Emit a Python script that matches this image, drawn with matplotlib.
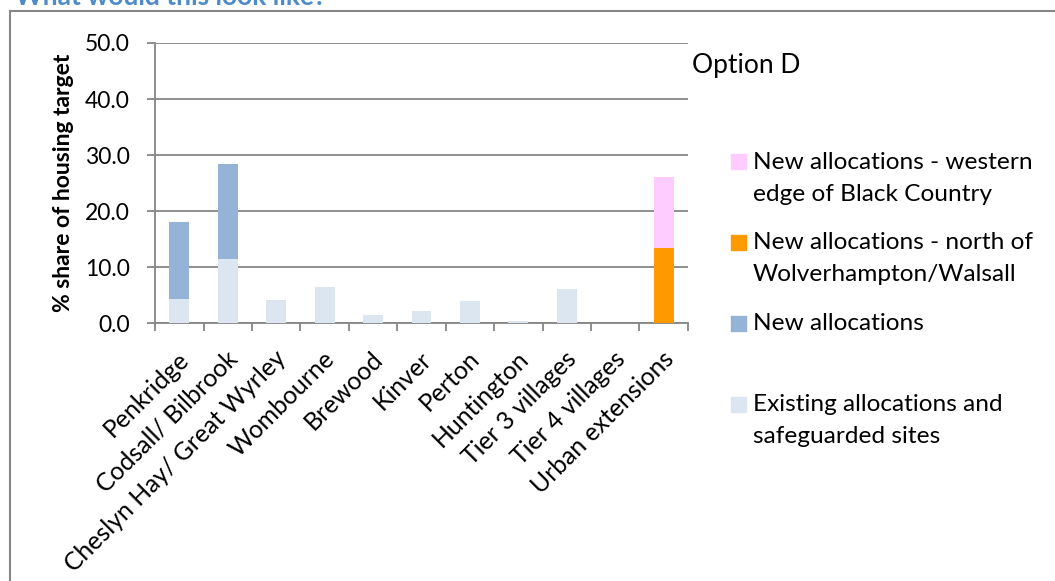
import matplotlib.pyplot as plt
from matplotlib.lines import Line2D
from matplotlib.patches import Rectangle
from matplotlib.transforms import ScaledTranslation
import numpy as np

plt.rcParams['font.family'] = ['Lato', 'DejaVu Sans']

# settlements along the x axis
categories = ["Penkridge", "Codsall/ Bilbrook", "Cheslyn Hay/ Great Wyrley",
              "Wombourne", "Brewood", "Kinver", "Perton", "Huntington",
              "Tier 3 villages", "Tier 4 villages", "Urban extensions"]

# % share of housing target, one list per stacked series (bottom to top)
existing = [4.3, 11.4, 4.2, 6.4, 1.4, 2.1, 4.0, 0.4, 6.1, 0.0, 0.0]
new_alloc = [13.7, 17.0, 0, 0, 0, 0, 0, 0, 0, 0, 0]
north_wolv = [0, 0, 0, 0, 0, 0, 0, 0, 0, 0, 13.4]
west_bc = [0, 0, 0, 0, 0, 0, 0, 0, 0, 0, 12.7]

series_labels = ["Existing allocations and\nsafeguarded sites",
                 "New allocations",
                 "New allocations - north of\nWolverhampton/Walsall",
                 "New allocations - western\nedge of Black Country"]
colors = ["#DCE6F1", "#95B3D7", "#FF9900", "#FFCCFF"]

grey = "#868686"

fig = plt.figure(figsize=(10.55, 5.81), dpi=100)
ax = fig.add_axes([0.147, 0.444, 0.505, 0.482])

x = np.arange(len(categories))
bottom = np.zeros(len(categories))
for vals, col in zip([existing, new_alloc, north_wolv, west_bc], colors):
    ax.bar(x, vals, width=0.41, bottom=bottom, color=col, zorder=3)
    bottom += np.array(vals)

ax.set_xlim(-0.5, len(categories) - 0.5)
ax.set_ylim(0, 50)
ax.set_yticks(np.arange(0, 51, 10))
ax.set_yticklabels([f"{v:.1f}" for v in np.arange(0, 51, 10)], fontsize=16.5)
ax.yaxis.grid(True, color=grey, linewidth=1.3, zorder=0)

# ticks sit between categories, labels at the centres
ax.set_xticks(np.arange(-0.5, len(categories), 1))
ax.set_xticklabels([])
ax.set_xticks(x, minor=True)
ax.set_xticklabels(categories, minor=True, rotation=45, ha='right', va='center',
                   rotation_mode='anchor', fontsize=17.8)
ax.tick_params(axis='x', which='minor', length=0, pad=23)
ax.tick_params(axis='x', which='major', length=6, width=1.3, color=grey)
ax.tick_params(axis='y', length=6, width=1.3, color=grey, pad=12)
shift = ScaledTranslation(6 / 100, 0, fig.dpi_scale_trans)
for lab in ax.get_xticklabels(minor=True):
    lab.set_transform(lab.get_transform() + shift)

for side in ['top', 'right']:
    ax.spines[side].set_visible(False)
for side in ['left', 'bottom']:
    ax.spines[side].set_color(grey)
    ax.spines[side].set_linewidth(1.3)

ax.set_ylabel("% share of housing target", fontsize=16.5, fontweight='bold',
              labelpad=8)

fig.text(692 / 1055, 1 - 65 / 581, "Option D", fontsize=19, va='center')

# legend keys, top entry first
key_y = [162, 242, 323, 404]
for yy, lab, col in zip(key_y, series_labels[::-1], colors[::-1]):
    fig.patches.append(Rectangle((731 / 1055, 1 - (yy + 7.5) / 581),
                                 15 / 1055, 15 / 581, color=col,
                                 transform=fig.transFigure, figure=fig))
    fig.text(753 / 1055, 1 - (yy - 10) / 581, lab, fontsize=17.6, va='top',
             linespacing=1.62)

# title cut off at the top edge, and the frame around the chart
fig.text(15 / 1055, 1 - 5 / 581, "What would this look like?", fontsize=19,
         fontweight='bold', color="#4F8BC9", va='baseline')
fig.lines.append(Line2D([10 / 1055, 10 / 1055], [0, 1 - 11 / 581],
                        color=grey, linewidth=1.5, transform=fig.transFigure))
fig.lines.append(Line2D([10 / 1055, 1], [1 - 11 / 581, 1 - 11 / 581],
                        color=grey, linewidth=1.5, transform=fig.transFigure))

fig.savefig("out.png", dpi=100)
